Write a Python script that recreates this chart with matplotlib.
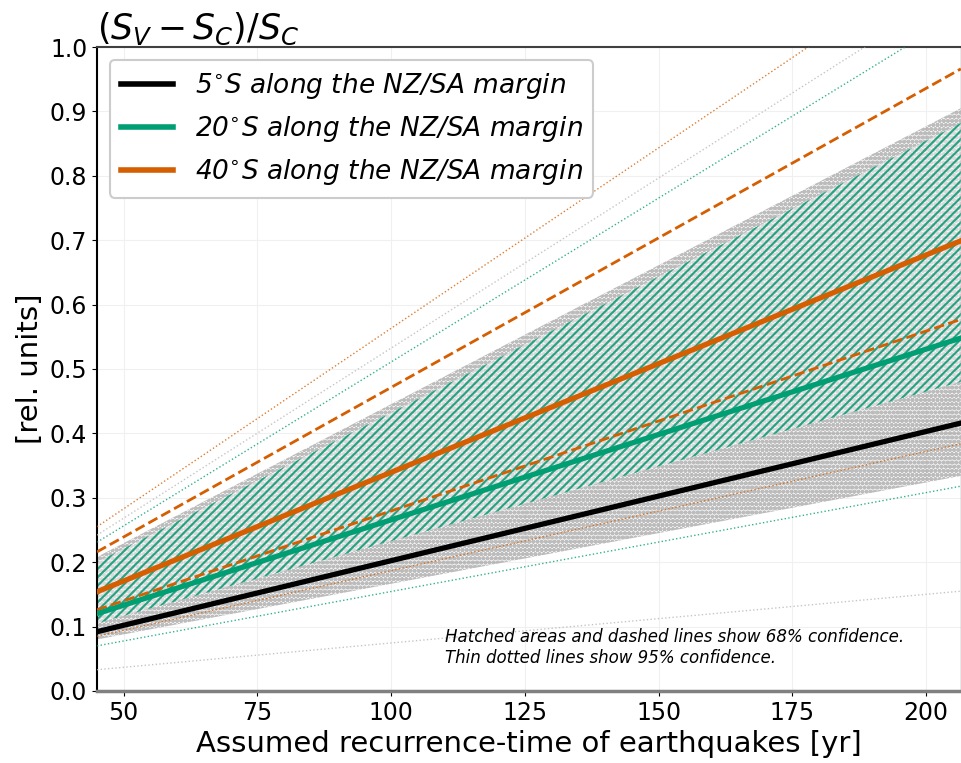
import matplotlib
matplotlib.use("Agg")
import matplotlib.pyplot as plt
import numpy as np

# Recurrence time [yr] at the ends of the plotted range
T = [45, 206.5]

# Median estimates
s5 = [0.092, 0.416]
s20 = [0.120, 0.548]
s40 = [0.154, 0.699]

# 68% confidence bounds
s5_lo68 = [0.080, 0.334]
s5_hi68 = [0.208, 0.905]
s20_lo68 = [0.105, 0.480]
s20_hi68 = [0.200, 0.882]
s40_lo68 = [0.126, 0.577]
s40_hi68 = [0.216, 0.966]

# 95% confidence bounds
s5_lo95 = [0.033, 0.155]
s5_hi95 = [0.242, 1.095]
s20_lo95 = [0.070, 0.318]
s20_hi95 = [0.231, 1.053]
s40_lo95 = [0.085, 0.384]
s40_hi95 = [0.255, 1.160]

labels = ["5$^{\\circ}$S along the NZ/SA margin",
          "20$^{\\circ}$S along the NZ/SA margin",
          "40$^{\\circ}$S along the NZ/SA margin"]

BLACK = "#000000"
GREEN = "#009E73"
ORANGE = "#D55E00"

plt.rcParams["hatch.linewidth"] = 1.5
fig = plt.figure(figsize=(9.62, 7.63), dpi=100)
ax = fig.add_axes([0.1008, 0.0944, 0.898, 0.844])
ax.set_axisbelow(True)
ax.grid(True, color="#f0f0f0", lw=0.8, ls="-")

# hatched 68% areas
ax.fill_between(T, s5_lo68, s5_hi68, facecolor=(0.7, 0.7, 0.7, 0.12),
                edgecolor=(0.6, 0.6, 0.6, 0.6), hatch="oooo", linewidth=0, zorder=1)
ax.fill_between(T, s20_lo68, s20_hi68, facecolor=(1, 1, 1, 0.45),
                edgecolor=(0.0, 0.60, 0.44, 0.85), hatch="////", linewidth=0, zorder=2)

# 95% thin dotted lines
for lo, hi, c in [(s5_lo95, s5_hi95, "#b8b8b8"), (s20_lo95, s20_hi95, GREEN),
                  (s40_lo95, s40_hi95, ORANGE)]:
    ax.plot(T, lo, ls=":", lw=1.0, color=c, alpha=0.8, zorder=3)
    ax.plot(T, hi, ls=":", lw=1.0, color=c, alpha=0.8, zorder=3)

# 68% dashed lines for 40S
ax.plot(T, s40_lo68, ls="--", lw=2.0, color=ORANGE, zorder=4)
ax.plot(T, s40_hi68, ls="--", lw=2.0, color=ORANGE, zorder=4)

# medians
ax.plot(T, s5, color=BLACK, lw=3.8, label=labels[0], zorder=5)
ax.plot(T, s20, color=GREEN, lw=3.8, label=labels[1], zorder=5)
ax.plot(T, s40, color=ORANGE, lw=3.8, label=labels[2], zorder=5)

ax.set_xlim(45, 206.5)
ax.set_ylim(0, 1.0)
ax.set_xticks([50, 75, 100, 125, 150, 175, 200])
ax.set_yticks(np.round(np.arange(0, 1.01, 0.1), 1))
ax.tick_params(labelsize=17)

for side, c, w in [("left", "black", 1.5), ("bottom", "#808080", 2.5),
                   ("top", "#404040", 1.5), ("right", "#909090", 1.0)]:
    ax.spines[side].set_color(c)
    ax.spines[side].set_linewidth(w)

ax.set_xlabel("Assumed recurrence-time of earthquakes [yr]", fontsize=21)
ax.set_ylabel("[rel. units]", fontsize=21)
ax.set_title("$(S_V - S_C)/S_C$", loc="left", fontsize=25, pad=3)

leg = ax.legend(loc="upper left", prop={"style": "italic", "size": 19},
                handlelength=2.0, framealpha=1.0, edgecolor="#cccccc")
leg.get_frame().set_linewidth(1.5)
for h in leg.get_lines():
    h.set_linewidth(4)

ax.text(110, 0.037, "Hatched areas and dashed lines show 68% confidence.\n"
        "Thin dotted lines show 95% confidence.", fontsize=12,
        style="italic", ha="left", va="bottom", zorder=6)

fig.savefig("out.png", dpi=100)
